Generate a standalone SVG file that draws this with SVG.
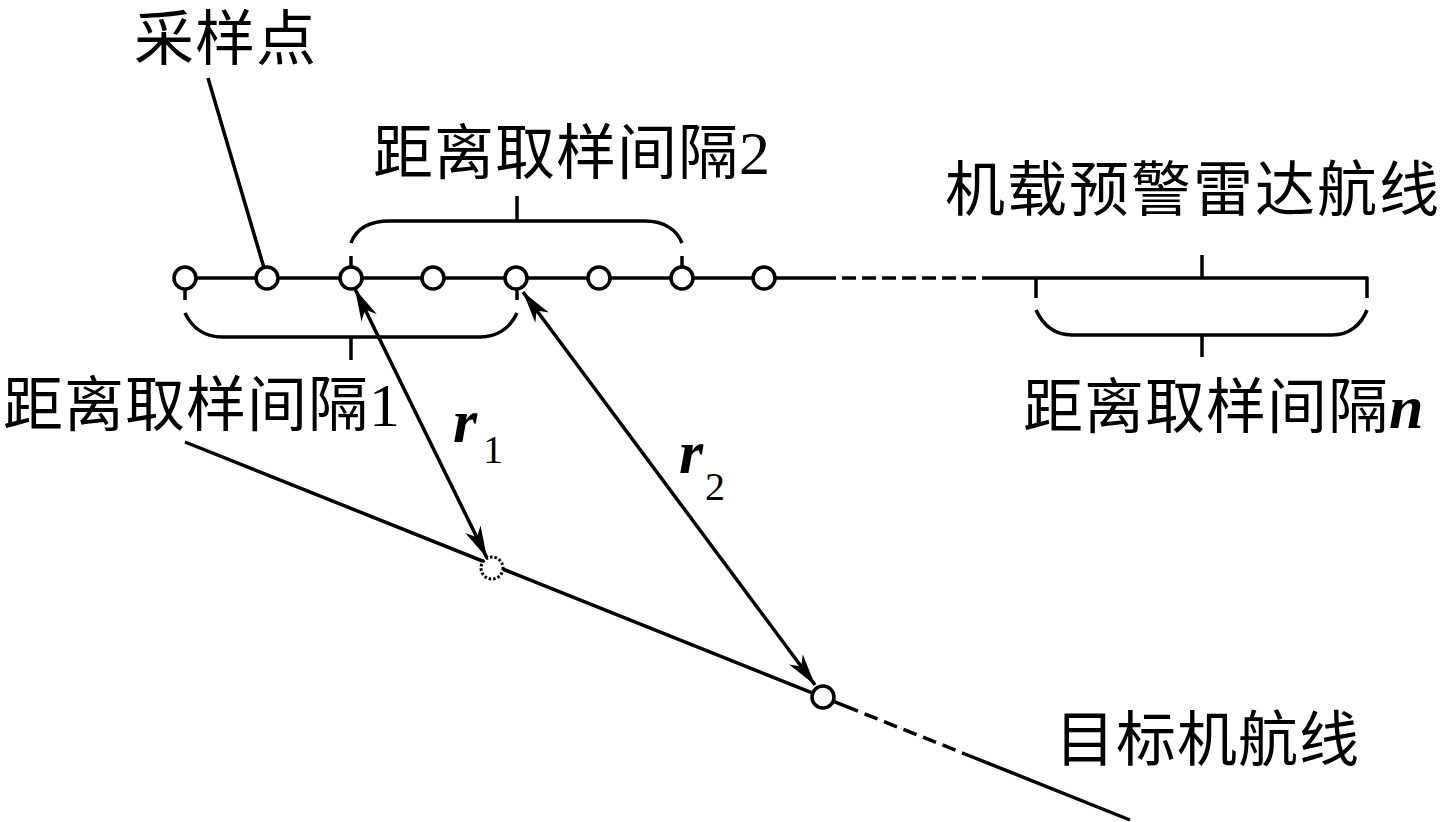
<svg xmlns="http://www.w3.org/2000/svg" width="1445" height="822" viewBox="0 0 1445 822">
<style>
.ln{fill:none;stroke:#000;stroke-width:3.5;stroke-linecap:butt}
.pt{fill:#fff;stroke:#000;stroke-width:3.5}
.cjk{font-family:"Noto Sans CJK SC","Noto Sans CJK JP",sans-serif;font-size:60px;letter-spacing:1px;fill:#000}
.ser{font-family:"Liberation Serif",serif}
.var{font-family:"Liberation Serif",serif;font-style:italic;font-weight:bold;font-size:62px;fill:#000}
.sub{font-family:"Liberation Serif",serif;font-size:40px;fill:#000}
</style>
<defs>
<marker id="ah" viewBox="-34 -9 36 18" refX="0" refY="0" markerWidth="36" markerHeight="18" markerUnits="userSpaceOnUse" orient="auto-start-reverse">
<path d="M0,0 L-32,-8.5 L-23,0 L-32,8.5 Z" fill="#000"/>
</marker>
</defs>
<rect width="1445" height="822" fill="#fff"/>
<g id="connectors">
<line class="ln" x1="184" y1="278" x2="836" y2="278"/>
<line class="ln" x1="836" y1="278" x2="985" y2="278" stroke-dasharray="14 6" stroke-dashoffset="-6"/>
<line class="ln" x1="985" y1="278" x2="1368" y2="278"/>
<line class="ln" x1="208" y1="78" x2="267" y2="278"/>
<line class="ln" x1="185" y1="442" x2="858" y2="711.2"/>
<line class="ln" x1="858" y1="711.2" x2="965" y2="754" stroke-dasharray="14 7" stroke-dashoffset="-7"/>
<line class="ln" x1="965" y1="754" x2="1130" y2="820"/>
<line class="ln" x1="355" y1="289" x2="487" y2="558" stroke-width="3.2" marker-start="url(#ah)" marker-end="url(#ah)"/>
<line class="ln" x1="523" y1="292" x2="815" y2="685" stroke-width="3.2" marker-start="url(#ah)" marker-end="url(#ah)"/>
</g>
<g id="brackets">
<path class="ln" d="M351,243 C356,229 369,221 390,221 L645,221 C664,221 677,230 682,243"/>
<line class="ln" x1="517" y1="196" x2="517" y2="221"/>
<line class="ln" x1="351" y1="256" x2="351" y2="267"/>
<line class="ln" x1="682" y1="256" x2="682" y2="267"/>
<path class="ln" d="M185,313 C192,328 205,337 222,337 L480,337 C497,337 510,328 517,313"/>
<line class="ln" x1="185" y1="288" x2="185" y2="300"/>
<line class="ln" x1="517" y1="288" x2="517" y2="300"/>
<line class="ln" x1="351" y1="337" x2="351" y2="360"/>
<path class="ln" d="M1036,310 C1043,325 1055,335 1072,335 L1332,335 C1349,335 1361,325 1367,310"/>
<line class="ln" x1="1036" y1="277" x2="1036" y2="298"/>
<line class="ln" x1="1367" y1="277" x2="1367" y2="298"/>
<line class="ln" x1="1202" y1="255" x2="1202" y2="278"/>
<line class="ln" x1="1202" y1="335" x2="1202" y2="357"/>
</g>
<g id="sample-points">
<circle class="pt" cx="185" cy="278" r="11"/>
<circle class="pt" cx="267" cy="278" r="11"/>
<circle class="pt" cx="351" cy="278" r="11"/>
<circle class="pt" cx="433" cy="278" r="11"/>
<circle class="pt" cx="516" cy="278" r="11"/>
<circle class="pt" cx="599" cy="278" r="11"/>
<circle class="pt" cx="682" cy="278" r="11"/>
<circle class="pt" cx="764" cy="278" r="11"/>
</g>
<g id="target-points">
<circle cx="492" cy="568" r="11" fill="#fff" stroke="#000" stroke-width="3" stroke-dasharray="2.5 2"/>
<circle class="pt" cx="823" cy="697" r="11"/>
</g>
<g id="labels">
<text class="cjk" x="134" y="60">采样点</text>
<text class="cjk" x="373" y="174">距离取样间隔<tspan class="ser" font-size="62">2</tspan></text>
<text class="cjk" x="945" y="211" style="letter-spacing:2px">机载预警雷达航线</text>
<text class="cjk" x="3" y="426">距离取样间隔<tspan class="ser" font-size="62">1</tspan></text>
<text class="cjk" x="1023" y="428">距离取样间隔<tspan class="ser" font-size="62" font-style="italic" font-weight="bold">n</tspan></text>
<text class="cjk" x="1055" y="761">目标机航线</text>
<text class="var" x="453" y="442">r</text>
<text class="sub" x="483" y="463">1</text>
<text class="var" x="679" y="473">r</text>
<text class="sub" x="705" y="500">2</text>
</g>
</svg>
